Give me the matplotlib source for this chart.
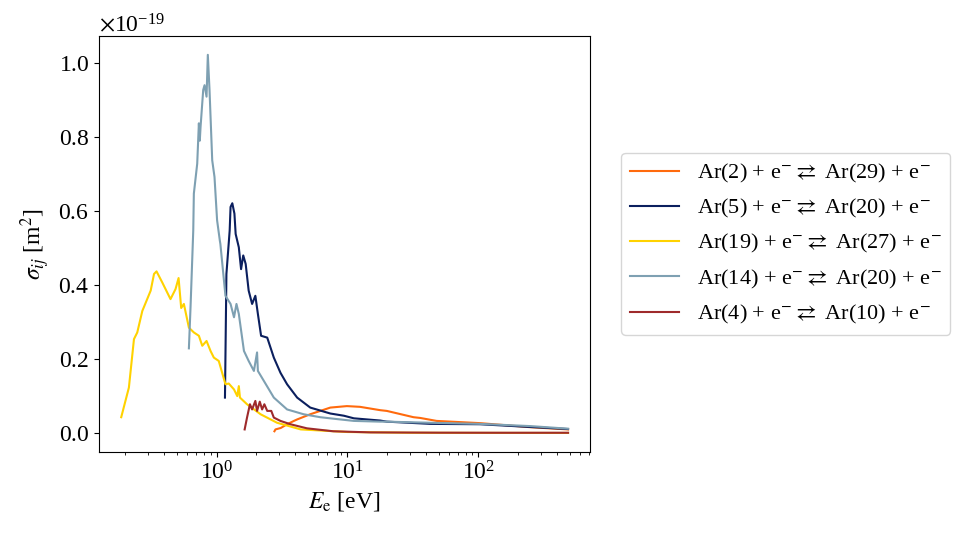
import numpy as np
import matplotlib
matplotlib.use("Agg")
import matplotlib.pyplot as plt

plt.rcParams['font.family'] = ['Liberation Serif', 'DejaVu Serif']
plt.rcParams['mathtext.fontset'] = 'stix'
plt.rcParams['font.size'] = 17

# cross sections, in units of 1e-19 m^2
e_2_29 = [2.77, 2.82, 3.1, 3.46, 3.9, 4.13, 5.2, 7.4, 9.9, 12.5, 17.8, 20, 32, 36, 48, 103, 250, 485]
s_2_29 = [0.005, 0.01, 0.014, 0.024, 0.033, 0.037, 0.051, 0.069, 0.073, 0.071, 0.062, 0.06, 0.043, 0.041, 0.033, 0.027, 0.016, 0.01]

e_5_20 = [1.16, 1.19, 1.26, 1.28, 1.32, 1.37, 1.40, 1.48, 1.54, 1.60, 1.67, 1.76, 1.87, 1.98, 2.07,
          2.19, 2.44, 2.74, 3.08, 3.46, 4.13, 5.2, 7.4, 9.4, 11.2, 17.8, 20, 43, 103, 485]
s_5_20 = [0.096, 0.43, 0.547, 0.611, 0.621, 0.593, 0.538, 0.502, 0.443, 0.48, 0.457, 0.385, 0.349, 0.371, 0.322,
          0.263, 0.258, 0.204, 0.163, 0.132, 0.096, 0.069, 0.053, 0.047, 0.04, 0.034, 0.031, 0.025, 0.024, 0.011]

e_19_27 = [0.187, 0.214, 0.234, 0.248, 0.271, 0.314, 0.333, 0.348, 0.385, 0.445, 0.486, 0.513, 0.537, 0.563,
           0.615, 0.671, 0.733, 0.778, 0.839, 0.9, 0.954, 1.04, 1.17, 1.24, 1.36, 1.44, 1.48, 1.51, 1.71,
           2.17, 2.9, 4.4, 10, 30, 100, 485]
s_19_27 = [0.043, 0.123, 0.254, 0.272, 0.33, 0.385, 0.43, 0.437, 0.407, 0.362, 0.389, 0.419, 0.338, 0.349,
           0.285, 0.272, 0.263, 0.236, 0.249, 0.222, 0.204, 0.195, 0.132, 0.134, 0.118, 0.1, 0.127, 0.096, 0.078,
           0.051, 0.028, 0.01, 0.003, 0.001, 0.0007, 0.0005]

e_14_20 = [0.615, 0.633, 0.664, 0.671, 0.712, 0.733, 0.745, 0.755, 0.791, 0.81, 0.839, 0.858, 0.884, 0.927,
           0.965, 1.01, 1.06, 1.07, 1.17, 1.28, 1.36, 1.42, 1.48, 1.62, 1.76, 1.93, 2.04, 2.07, 2.3, 2.74,
           3.46, 4.63, 6.2, 8.3, 11.2, 17.8, 20, 43, 103, 250, 485]
s_14_20 = [0.229, 0.34, 0.547, 0.647, 0.728, 0.837, 0.79, 0.827, 0.927, 0.94, 0.909, 1.022, 0.927, 0.737,
           0.692, 0.575, 0.52, 0.511, 0.371, 0.349, 0.313, 0.349, 0.322, 0.222, 0.195, 0.168, 0.218, 0.168,
           0.141, 0.096, 0.064, 0.051, 0.043, 0.038, 0.033, 0.031, 0.031, 0.028, 0.025, 0.019, 0.012]

e_4_10 = [1.64, 1.71, 1.80, 1.87, 1.98, 2.04, 2.14, 2.23, 2.32, 2.44, 2.62, 2.74, 3.08, 3.67, 4.9, 7.8,
          15, 50, 150, 485]
s_4_10 = [0.01, 0.042, 0.078, 0.064, 0.087, 0.06, 0.085, 0.064, 0.078, 0.06, 0.06, 0.042, 0.033, 0.024,
          0.013, 0.005, 0.002, 0.0012, 0.001, 0.001]

series = [
    (e_2_29, s_2_29, 'Ar(2)', 'Ar(29)', '#ff6a0d'),
    (e_5_20, s_5_20, 'Ar(5)', 'Ar(20)', '#0b1f5e'),
    (e_19_27, s_19_27, 'Ar(19)', 'Ar(27)', '#ffd200'),
    (e_14_20, s_14_20, 'Ar(14)', 'Ar(20)', '#7ea0b2'),
    (e_4_10, s_4_10, 'Ar(4)', 'Ar(10)', '#9e2a2b'),
]

fig = plt.figure(figsize=(9.6, 5.36), dpi=100)
ax = fig.add_axes([0.103, 0.157, 0.512, 0.776])

for e, s, a, b, c in series:
    label = a + r' + e$^{-} \rightleftarrows$ ' + b + r' + e$^{-}$'
    ax.plot(e, np.array(s) * 1e-19, color=c, lw=1.5, label=label)

ax.set_xscale('log')
ax.ticklabel_format(axis='y', style='sci', scilimits=(0, 0), useMathText=True)
ax.tick_params(labelsize=17)
ax.yaxis.get_offset_text().set_fontsize(17)
ax.set_xlabel(r'$E_\mathrm{e}$ [eV]')
ax.set_ylabel(r'$\sigma_{ij}$ [m$^2$]')
ax.legend(loc='center left', bbox_to_anchor=(1.04, 0.5), fontsize=16,
          handlelength=2.2, labelspacing=0.55)

fig.savefig('out.png', dpi=100)
